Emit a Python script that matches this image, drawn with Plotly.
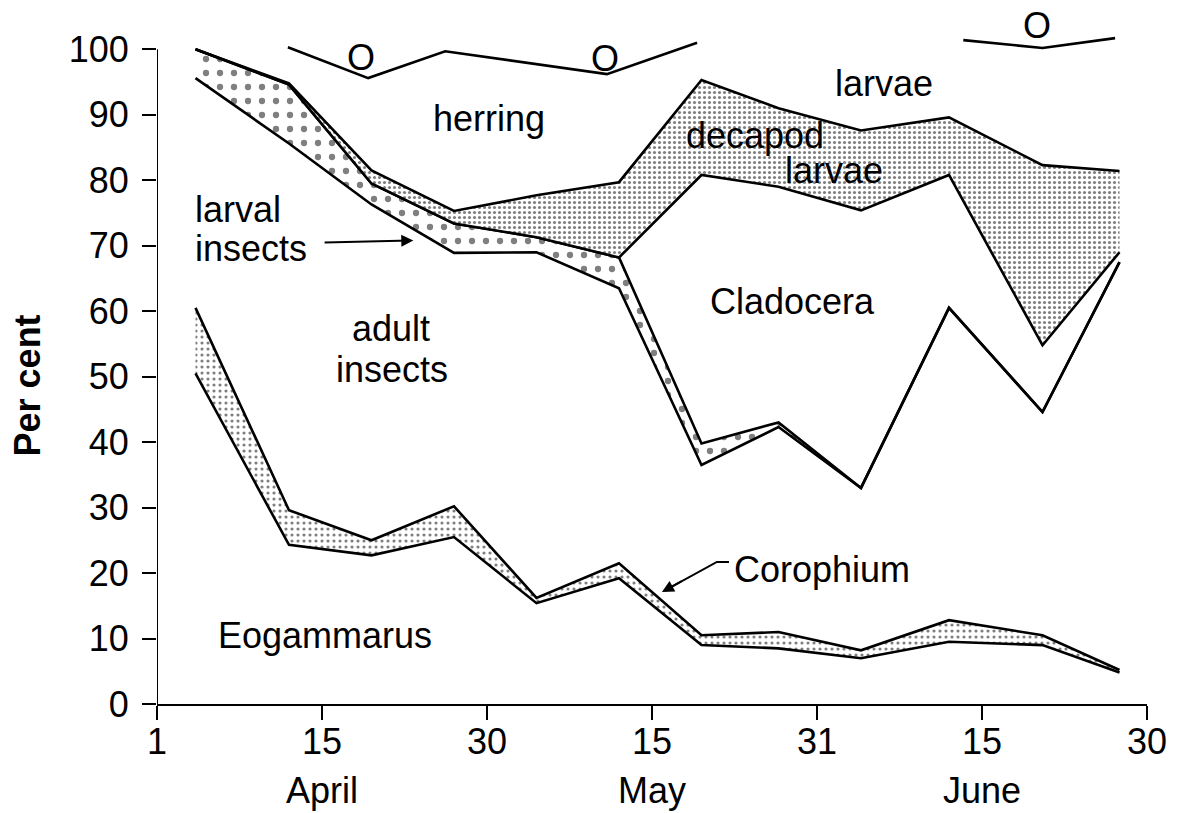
import plotly.graph_objects as go

# Sampling dates: days after 1 April (tick spacing of the original is half-monthly)
days = [3.5, 12, 19.5, 27, 34.5, 42, 49.5, 56.5, 64, 72, 80.5, 87.5]

# Percentage composition of the diet (stacked from bottom to top)
eogammarus   = [50.5, 24.3, 22.7, 25.5, 15.4, 19.2, 9.0, 8.5, 7.0, 9.5, 9.0, 4.8]
corophium    = [10.0, 5.3, 2.3, 4.7, 0.8, 2.3, 1.5, 2.5, 1.2, 3.3, 1.5, 0.4]
adult_ins    = [35.1, 56.0, 51.3, 38.7, 52.8, 42.0, 26.0, 31.3, 24.8, 47.7, 34.1, 62.3]
larval_ins   = [4.4, 9.0, 3.2, 4.5, 2.3, 4.7, 3.3, 0.7, 0.0, 0.0, 0.0, 0.0]
cladocera    = [0.0, 0.0, 0.0, 0.0, 0.0, 0.0, 41.0, 36.0, 42.4, 20.3, 10.2, 1.5]
decapod      = [0.0, 0.2, 2.0, 1.9, 6.4, 11.5, 14.5, 12.0, 12.2, 8.8, 27.5, 12.4]
herring      = [0.0, 5.2, 14.1, 24.4, 20.0, 16.5, 4.7, 9.0, 12.4, 10.4, 17.7, 18.6]

# "O" (other items) boundary line at the top
other_days = [11.9, 19.2, 26.2, 40.9, 49.1, None, 73.3, 80.5, 87.1]
other_line = [100.3, 95.6, 99.7, 96.2, 101.0, None, 101.4, 100.2, 101.7]

tick_vals = [0, 15, 30, 45, 60, 75, 90]
tick_text = ["1", "15", "30", "15", "31", "15", "30"]
months = [("April", 15), ("May", 45), ("June", 75)]

FONT = "Liberation Sans, Arial, Helvetica, sans-serif"
FS = 36
LW = 2.6
CLEAR = "rgba(0,0,0,0)"

fig = go.Figure()

def layer(name, vals, pattern=None, line_w=LW):
    kw = dict(x=days, y=vals, name=name, mode="lines", stackgroup="diet",
              line=dict(color="black", width=line_w), hoverinfo="x+y+name")
    if pattern:
        kw["fillcolor"] = "white"
        kw["fillpattern"] = pattern
    else:
        kw["fillcolor"] = CLEAR
    fig.add_trace(go.Scatter(**kw))

layer("Eogammarus", eogammarus)
layer("Corophium", corophium,
      dict(shape=".", fgcolor="black", bgcolor="white", size=6, solidity=0.22))
layer("adult insects", adult_ins)
layer("larval insects", larval_ins,
      dict(shape=".", fgcolor="black", bgcolor="white", size=14, solidity=0.16))
layer("Cladocera", cladocera)
layer("decapod larvae", decapod,
      dict(shape=".", fgcolor="black", bgcolor="white", size=5, solidity=0.3))
layer("herring larvae", herring, line_w=0)

fig.add_trace(go.Scatter(x=other_days, y=other_line, mode="lines", name="O",
                         line=dict(color="black", width=LW), connectgaps=False))

# y axis line only from 0 to 100
fig.add_shape(type="line", xref="x", yref="y", x0=0, x1=0, y0=0, y1=100,
              line=dict(color="black", width=2))

ann = []
def label(text, x, y, xanchor="center", yref="y"):
    ann.append(dict(text=text, x=x, y=y, xref="x", yref=yref, showarrow=False,
                    xanchor=xanchor, yanchor="middle",
                    font=dict(family=FONT, size=FS, color="black")))

label("herring", 30.2, 89.5)
label("larvae", 66.1, 94.7)
label("decapod", 54.4, 86.9)
label("larvae", 61.5, 81.5)
label("larval", 3.3, 75.6, "left")
label("insects", 3.3, 69.5, "left")
label("adult", 21.3, 57.3)
label("insects", 21.4, 51.1)
label("Cladocera", 57.8, 61.5)
label("Corophium", 52.3, 20.5, "left")
label("Eogammarus", 15.3, 10.4)
label("O", 18.5, 98.8)
label("O", 40.7, 98.6)
label("O", 80.0, 103.7)
for m, xv in months:
    label(m, xv, -0.124, yref="paper")

# arrow: larval insects
ann.append(dict(x=23.3, y=70.8, ax=15.1, ay=70.5, xref="x", yref="y",
                axref="x", ayref="y", text="", showarrow=True,
                font=dict(size=1), standoff=0, startstandoff=0,
                arrowhead=2, arrowsize=1.2, arrowwidth=2, arrowcolor="black"))
# arrow: Corophium (bent leader line + arrow head)
fig.add_shape(type="path", xref="x", yref="y",
              path="M 52.0 21.7 L 50.9 21.7 L 46.6 17.75",
              line=dict(color="black", width=2))
ann.append(dict(x=45.9, y=17.1, ax=47.8, ay=18.85, xref="x", yref="y",
                axref="x", ayref="y", text="", showarrow=True,
                font=dict(size=1), standoff=0, startstandoff=0,
                arrowhead=2, arrowsize=1.2, arrowwidth=2, arrowcolor="black"))

# y axis title
ann.append(dict(text="<b>Per cent</b>", x=-0.131, y=48.7, xref="paper", yref="y",
                showarrow=False, textangle=-90, xanchor="center", yanchor="middle",
                font=dict(family=FONT, size=FS, color="black")))

fig.update_layout(
    width=1185, height=813,
    margin=dict(l=157, r=38, t=10, b=109),
    paper_bgcolor="white", plot_bgcolor="white",
    showlegend=False,
    annotations=ann,
    font=dict(family=FONT, size=FS, color="black"),
    xaxis=dict(range=[0, 90], tickvals=tick_vals, ticktext=tick_text,
               showline=True, linecolor="black", linewidth=2,
               ticks="outside", ticklen=14, tickwidth=2, tickcolor="black",
               showgrid=False, zeroline=False, ticklabelstandoff=-9,
               tickfont=dict(family=FONT, size=FS, color="black")),
    yaxis=dict(range=[0, 106], tickvals=list(range(0, 101, 10)),
               showline=False, ticks="outside", ticklen=14, tickwidth=2,
               tickcolor="black", showgrid=False, zeroline=False,
               ticklabelstandoff=6,
               tickfont=dict(family=FONT, size=FS, color="black")),
)

fig.write_html("out.html", config={"displayModeBar": False},
               post_script="document.body.style.margin='0px';"
                           "document.body.style.overflow='hidden';")
